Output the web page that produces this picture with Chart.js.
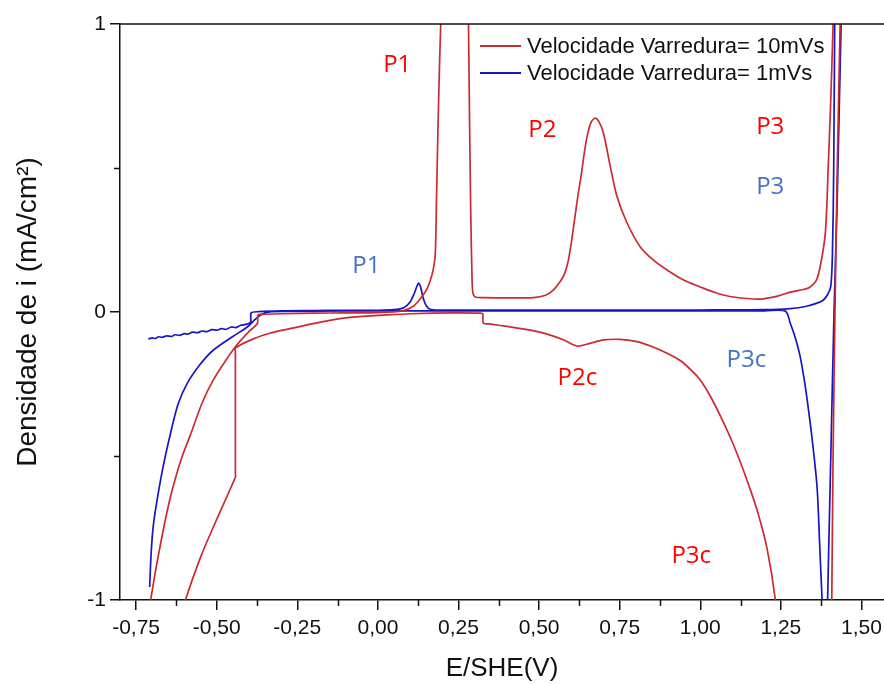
<!DOCTYPE html>
<html>
<head>
<meta charset="utf-8">
<script src="https://cdn.jsdelivr.net/npm/chart.js@4/dist/chart.umd.min.js"></script>
<style>
  html, body { margin: 0; padding: 0; background: #fff; }
  canvas { display: block; }
</style>
</head>
<body>
<canvas id="cv" width="884" height="684"></canvas>
<script>
// axis ticks
var X_MAJOR = [-0.75, -0.5, -0.25, 0, 0.25, 0.5, 0.75, 1.0, 1.25, 1.5];
var X_MINOR = [-0.625, -0.375, -0.125, 0.125, 0.375, 0.625, 0.875, 1.125, 1.375];
var Y_MAJOR = [-1, 0, 1];
var Y_MINOR = [-0.5, 0.5];

var SERIES_LABELS = ["Velocidade Varredura= 10mVs", "Velocidade Varredura= 1mVs"];

// 10 mV/s loop (E in V, i in mA/cm2), in scan order
var RED_E = [
  -0.72, -0.705, -0.69, -0.675, -0.66, -0.643, -0.625, -0.605, -0.581, -0.545, -0.51, -0.47, -0.436, -0.4,
  -0.374, -0.372, -0.36, -0.3, -0.2, -0.1, 0.0, 0.076, 0.11, 0.132, 0.15, 0.163, 0.172, 0.178, 0.182,
  0.186, 0.191, 0.195, 0.197,
  0.279, 0.281, 0.284, 0.288, 0.292, 0.295, 0.302, 0.33, 0.4, 0.482, 0.52, 0.544, 0.565, 0.578, 0.59,
  0.6, 0.61, 0.62, 0.63, 0.64, 0.65, 0.662, 0.674, 0.686, 0.7, 0.721, 0.742, 0.773, 0.814, 0.855, 0.897,
  0.95, 1.0, 1.05, 1.103, 1.186, 1.24, 1.279, 1.32, 1.341, 1.36, 1.372, 1.388, 1.397, 1.405, 1.412, 1.415,
  1.436, 1.434, 1.425, 1.418, 1.412, 1.408, 1.407,
  1.236, 1.233, 1.207, 1.177, 1.15, 1.124, 1.095, 1.062, 1.03, 1.0, 0.97, 0.94, 0.9, 0.85, 0.8, 0.75,
  0.7, 0.66, 0.618, 0.577, 0.52, 0.473, 0.4, 0.35, 0.327, 0.325, 0.31, 0.234, 0.1, 0.03, -0.08, -0.178,
  -0.26, -0.333, -0.39, -0.442, -0.442, -0.442, -0.442, -0.5, -0.55, -0.597, -0.61
];
var RED_I = [
  -1.08, -1.0, -0.9, -0.81, -0.725, -0.64, -0.565, -0.495, -0.425, -0.315, -0.235, -0.165, -0.112, -0.068,
  -0.04, -0.01, -0.008, -0.006, -0.004, -0.003, -0.002, 0.004, 0.02, 0.047, 0.075, 0.111, 0.15, 0.2, 0.4,
  0.62, 0.85, 1.0, 1.08,
  1.08, 1.0, 0.7, 0.35, 0.12, 0.065, 0.052, 0.05, 0.049, 0.05, 0.058, 0.076, 0.105, 0.13, 0.175,
  0.24, 0.32, 0.4, 0.47, 0.55, 0.615, 0.66, 0.673, 0.66, 0.62, 0.505, 0.4, 0.309, 0.226, 0.18, 0.146,
  0.11, 0.087, 0.066, 0.052, 0.045, 0.055, 0.069, 0.078, 0.087, 0.11, 0.157, 0.274, 0.504, 0.74, 0.995, 1.08,
  1.08, 1.0, 0.5, 0.0, -0.5, -1.0, -1.08,
  -1.08, -1.0, -0.82, -0.69, -0.6, -0.52, -0.44, -0.36, -0.29, -0.236, -0.2, -0.17, -0.145, -0.12, -0.102, -0.095,
  -0.097, -0.108, -0.118, -0.097, -0.075, -0.063, -0.05, -0.042, -0.038, -0.006, -0.004, -0.003, -0.006, -0.01,
  -0.018, -0.035, -0.055, -0.073, -0.095, -0.125, -0.14, -0.56, -0.573, -0.72, -0.851, -1.0, -1.06
];

// 1 mV/s loop, in scan order
var BLUE_E = [
  -0.712, -0.7, -0.69, -0.68, -0.67, -0.655, -0.64, -0.63, -0.615, -0.6, -0.59, -0.575, -0.56, -0.545,
  -0.53, -0.515, -0.5, -0.485, -0.47, -0.455, -0.44, -0.425, -0.41, -0.395, -0.393, -0.37,
  -0.3, -0.2, -0.1, 0.0, 0.05, 0.08, 0.1, 0.113, 0.122, 0.127, 0.133, 0.14, 0.15, 0.165,
  0.25, 0.5, 0.75, 1.0, 1.2, 1.28, 1.33, 1.36, 1.38, 1.395, 1.405, 1.41, 1.414, 1.417, 1.418,
  1.44, 1.437, 1.425, 1.415, 1.405, 1.395, 1.394,
  1.38, 1.378, 1.372, 1.363, 1.353, 1.341, 1.326, 1.31, 1.295, 1.279, 1.264,
  1.2, 1.0, 0.75, 0.5, 0.25, 0.0, -0.2, -0.33, -0.36, -0.38, -0.405, -0.45, -0.51, -0.55, -0.591,
  -0.62, -0.643, -0.665, -0.683, -0.696, -0.703, -0.708
];
var BLUE_I = [
  -0.094, -0.09, -0.092, -0.086, -0.088, -0.083, -0.085, -0.079, -0.081, -0.075, -0.077, -0.07, -0.072, -0.066,
  -0.068, -0.061, -0.063, -0.058, -0.06, -0.052, -0.054, -0.046, -0.043, -0.036, -0.003, 0.001,
  0.004, 0.005, 0.006, 0.006, 0.008, 0.015, 0.035, 0.065, 0.092, 0.1, 0.085, 0.05, 0.022, 0.008,
  0.007, 0.007, 0.007, 0.007, 0.008, 0.012, 0.02, 0.03, 0.04, 0.06, 0.09, 0.2, 0.5, 1.0, 1.08,
  1.08, 1.0, 0.4, 0.0, -0.5, -1.0, -1.08,
  -1.08, -1.0, -0.85, -0.618, -0.5, -0.385, -0.26, -0.155, -0.09, -0.038, 0.003,
  0.004, 0.004, 0.004, 0.004, 0.004, 0.004, 0.003, 0.001, -0.008, -0.025, -0.052, -0.085, -0.132, -0.18, -0.247,
  -0.32, -0.42, -0.53, -0.64, -0.735, -0.83, -0.955
];

// peak labels
var NOTE_TEXT = ["P1", "P2", "P3", "P3", "P1", "P2c", "P3c", "P3c"];
var NOTE_E = [0.06, 0.51, 1.217, 1.217, -0.036, 0.619, 1.143, 0.972];
var NOTE_I = [0.858, 0.632, 0.642, 0.434, 0.16, -0.229, -0.167, -0.847];
var NOTE_SERIES = [0, 0, 0, 1, 1, 0, 1, 0];

var LINE_COLORS = ["#CC2A30", "#1616C4"];
var NOTE_COLORS = ["#FF0000", "#4472C4"];
var INK = "#111111";
var AXIS_FONT = '"Liberation Sans", Arial, sans-serif';

function points(xs, ys) {
  return xs.map(function (x, i) {
    return { x: x, y: ys[i] };
  });
}

function loopDataset(label, xs, ys, color) {
  return {
    label: label,
    data: points(xs, ys),
    borderColor: color,
    backgroundColor: color,
    borderWidth: 1.7,
    pointRadius: 0,
    showLine: true,
    tension: 0.3,
  };
}

var extras = {
  id: "extras",
  afterDraw: function (chart) {
    var ctx = chart.ctx;
    var area = chart.chartArea;
    var xs = chart.scales.x;
    var ys = chart.scales.y;
    ctx.save();
    ctx.strokeStyle = INK;
    ctx.lineWidth = 1.5;
    ctx.beginPath();
    ctx.moveTo(area.left, area.top);
    ctx.lineTo(chart.width, area.top);
    X_MINOR.forEach(function (v) {
      var px = Math.round(xs.getPixelForValue(v)) + 0.5;
      ctx.moveTo(px, area.bottom);
      ctx.lineTo(px, area.bottom + 6);
    });
    Y_MINOR.forEach(function (v) {
      var py = Math.round(ys.getPixelForValue(v)) + 0.5;
      ctx.moveTo(area.left, py);
      ctx.lineTo(area.left - 6, py);
    });
    ctx.stroke();

    // legend
    ctx.font = "22px " + AXIS_FONT;
    ctx.textBaseline = "middle";
    ctx.textAlign = "left";
    SERIES_LABELS.forEach(function (label, i) {
      var y = 46 + i * 27;
      ctx.strokeStyle = LINE_COLORS[i];
      ctx.lineWidth = 2;
      ctx.beginPath();
      ctx.moveTo(480, y);
      ctx.lineTo(521, y);
      ctx.stroke();
      ctx.fillStyle = INK;
      ctx.fillText(label, 527, y + 1);
    });

    // peak labels
    ctx.font = '24px "Open Sans", "Noto Sans", sans-serif';
    ctx.textAlign = "center";
    NOTE_TEXT.forEach(function (t, i) {
      ctx.fillStyle = NOTE_COLORS[NOTE_SERIES[i]];
      ctx.fillText(t, xs.getPixelForValue(NOTE_E[i]), ys.getPixelForValue(NOTE_I[i]));
    });
    ctx.restore();
  },
};

new Chart(document.getElementById("cv").getContext("2d"), {
  type: "scatter",
  data: {
    datasets: [
      loopDataset(SERIES_LABELS[0], RED_E, RED_I, LINE_COLORS[0]),
      loopDataset(SERIES_LABELS[1], BLUE_E, BLUE_I, LINE_COLORS[1]),
    ],
  },
  options: {
    responsive: false,
    animation: false,
    layout: { padding: { top: 24, right: 0, bottom: 0, left: 0 } },
    plugins: {
      legend: { display: false },
      tooltip: { enabled: false },
    },
    scales: {
      x: {
        type: "linear",
        min: -0.8,
        max: 1.57,
        afterBuildTicks: function (scale) {
          scale.ticks = X_MAJOR.map(function (v) { return { value: v }; });
        },
        afterFit: function (scale) {
          scale.height = 84;
          scale.paddingLeft = 0;
          scale.paddingRight = 0;
        },
        border: { display: true, color: INK, width: 1.5 },
        grid: { display: true, drawOnChartArea: false, drawTicks: true, tickLength: 10, color: INK, lineWidth: 1.5 },
        ticks: {
          color: INK,
          padding: 6,
          maxRotation: 0,
          autoSkip: false,
          font: { family: AXIS_FONT, size: 21 },
          callback: function (v) {
            return Number(v).toFixed(2).replace(".", ",");
          },
        },
        title: {
          display: true,
          text: "E/SHE(V)",
          color: INK,
          padding: { top: 4, bottom: 0 },
          font: { family: AXIS_FONT, size: 26 },
        },
      },
      y: {
        type: "linear",
        min: -1,
        max: 1,
        afterBuildTicks: function (scale) {
          scale.ticks = Y_MAJOR.map(function (v) { return { value: v }; });
        },
        afterFit: function (scale) {
          scale.width = 120;
          scale.paddingTop = 0;
          scale.paddingBottom = 0;
        },
        border: { display: true, color: INK, width: 1.5 },
        grid: { display: true, drawOnChartArea: false, drawTicks: true, tickLength: 10, color: INK, lineWidth: 1.5 },
        ticks: {
          color: INK,
          padding: 4,
          font: { family: AXIS_FONT, size: 21 },
          callback: function (v) {
            return String(v);
          },
        },
        title: {
          display: true,
          text: "Densidade de i (mA/cm²)",
          color: INK,
          padding: { top: 11, bottom: 0 },
          font: { family: AXIS_FONT, size: 28 },
        },
      },
    },
  },
  plugins: [extras],
});
</script>
</body>
</html>
